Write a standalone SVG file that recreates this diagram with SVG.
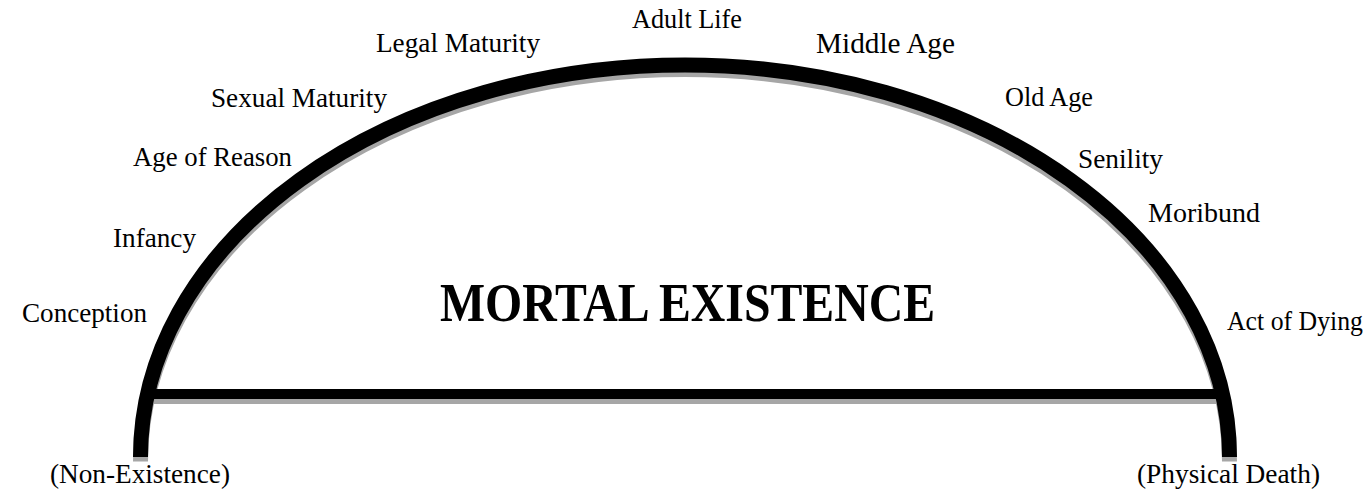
<svg xmlns="http://www.w3.org/2000/svg" width="1368" height="493" viewBox="0 0 1368 493">
<style>
.lbl{font-family:"Liberation Serif","Times New Roman",serif;font-size:27px;fill:#000;}
.title{font-family:"Liberation Serif","Times New Roman",serif;font-size:54px;font-weight:bold;fill:#000;}
.shadow{fill:none;stroke:#a6a6a6;}
.line{fill:none;stroke:#000;}
</style>
<rect width="1368" height="493" fill="#fff"/>
<g id="connectors">
  <path class="shadow" d="M140.5 457 A544.5 392 0 0 1 1229.5 457" stroke-width="15" transform="translate(0,4.5)"/>
  <line class="shadow" x1="152" y1="399" x2="1216" y2="399" stroke-width="10"/>
  <line class="line" x1="146" y1="394" x2="1224" y2="394" stroke-width="10"/>
  <path class="line" d="M140.5 457 A544.5 392 0 0 1 1229.5 457" stroke-width="15"/>
</g>
<g id="title"><text class="title" x="687.5" y="321" text-anchor="middle" textLength="495" lengthAdjust="spacingAndGlyphs">MORTAL EXISTENCE</text></g>
<g id="conception"><text class="lbl" x="22" y="322" textLength="125" lengthAdjust="spacingAndGlyphs">Conception</text></g>
<g id="infancy"><text class="lbl" x="113" y="247" textLength="83" lengthAdjust="spacingAndGlyphs">Infancy</text></g>
<g id="age-of-reason"><text class="lbl" x="133" y="166" textLength="159" lengthAdjust="spacingAndGlyphs">Age of Reason</text></g>
<g id="sexual-maturity"><text class="lbl" x="211" y="107" textLength="176" lengthAdjust="spacingAndGlyphs">Sexual Maturity</text></g>
<g id="legal-maturity"><text class="lbl" x="376" y="52" textLength="164" lengthAdjust="spacingAndGlyphs">Legal Maturity</text></g>
<g id="adult-life"><text class="lbl" x="632" y="28" textLength="110" lengthAdjust="spacingAndGlyphs">Adult Life</text></g>
<g id="middle-age"><text class="lbl" x="816" y="53" style="font-size:29px" textLength="139" lengthAdjust="spacingAndGlyphs">Middle Age</text></g>
<g id="old-age"><text class="lbl" x="1005" y="106" textLength="88" lengthAdjust="spacingAndGlyphs">Old Age</text></g>
<g id="senility"><text class="lbl" x="1078" y="168" textLength="85" lengthAdjust="spacingAndGlyphs">Senility</text></g>
<g id="moribund"><text class="lbl" x="1148" y="222" textLength="112" lengthAdjust="spacingAndGlyphs">Moribund</text></g>
<g id="act-of-dying"><text class="lbl" x="1227" y="330" textLength="136" lengthAdjust="spacingAndGlyphs">Act of Dying</text></g>
<g id="non-existence"><text class="lbl" x="50" y="483" textLength="180" lengthAdjust="spacingAndGlyphs">(Non-Existence)</text></g>
<g id="physical-death"><text class="lbl" x="1137" y="483" textLength="183" lengthAdjust="spacingAndGlyphs">(Physical Death)</text></g>
</svg>
